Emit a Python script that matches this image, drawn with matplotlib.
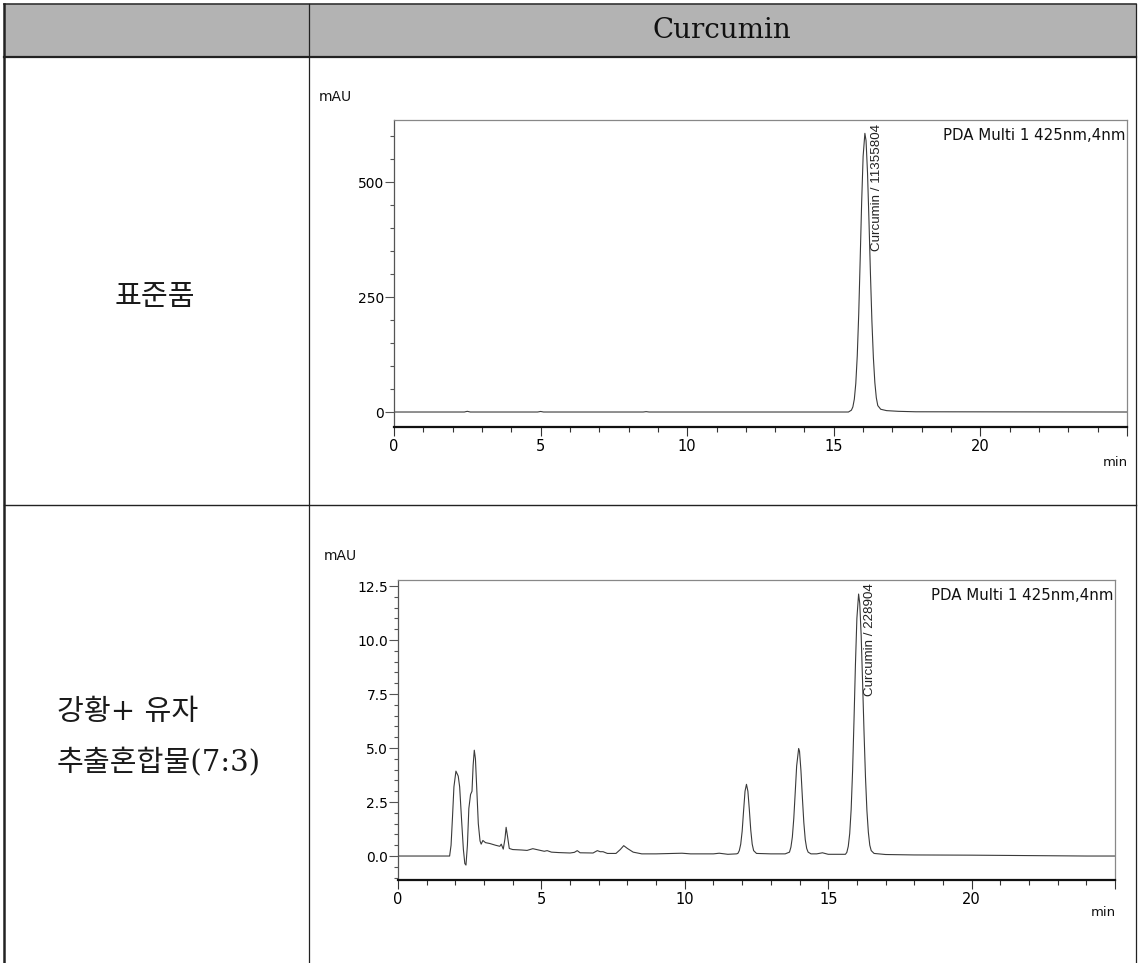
import matplotlib
matplotlib.use("Agg")
import matplotlib.pyplot as plt
from matplotlib.ticker import MultipleLocator, FixedLocator
from matplotlib.patches import Rectangle

# ---------------- DATA ----------------
header_title = "Curcumin"
row_labels = ["표준품", "강황+ 유자\n추출혼합물(7:3)"]
peak_labels = ["Curcumin / 11355804", "Curcumin / 228904"]
detector = "PDA Multi 1 425nm,4nm"

# standard (mAU vs min)
std_time = [0, 2.4, 2.5, 2.6, 4.9, 5.0, 5.1, 8.5, 8.6, 8.7, 15.5, 15.6, 15.65,
            15.7, 15.75, 15.8, 15.85, 15.9, 15.95, 16.0, 16.06, 16.1, 16.15,
            16.2, 16.25, 16.3, 16.35, 16.4, 16.45, 16.5, 16.6, 16.8, 17.2,
            17.8, 25]
std_mau = [0, 0, 1.5, 0, 0, 1.2, 0, 0, 0.8, 0, 0, 4, 11,
           28, 62, 122, 213, 332, 456, 556, 606, 590, 520,
           415, 300, 197, 118, 64, 31, 14, 6, 3, 1.5,
           0.5, 0]

# extract mixture (mAU vs min)
mix_time = [0, 1.8, 1.85, 1.9, 1.95, 2.02, 2.1, 2.15, 2.22, 2.28, 2.33, 2.37,
            2.42, 2.47, 2.53, 2.58, 2.62, 2.66, 2.7, 2.75, 2.8, 2.86, 2.9,
            2.96, 3.05, 3.2, 3.4, 3.55, 3.6, 3.67, 3.73, 3.77, 3.82, 3.88,
            4.0, 4.3, 4.5, 4.7, 4.9, 5.1, 5.2, 5.35, 5.6, 6.0, 6.15, 6.25,
            6.35, 6.8, 6.95, 7.05, 7.15, 7.3, 7.6, 7.75, 7.87, 8.0, 8.2, 8.5,
            9.0, 9.9, 10.2, 11.0, 11.2, 11.5, 11.8, 11.85, 11.9, 11.95, 12.0,
            12.05, 12.1, 12.15, 12.2, 12.25, 12.3, 12.35, 12.4, 12.5, 13.0,
            13.5, 13.65, 13.7, 13.75, 13.8, 13.85, 13.9, 13.97, 14.0, 14.05,
            14.1, 14.15, 14.2, 14.25, 14.3, 14.4, 14.6, 14.8, 15.0, 15.6,
            15.65, 15.7, 15.75, 15.8, 15.85, 15.9, 15.95, 16.0, 16.06, 16.1,
            16.15, 16.2, 16.25, 16.3, 16.35, 16.4, 16.45, 16.5, 16.6, 17.0,
            18.0, 20.0, 22.0, 24.0, 25.0]
mix_mau = [0, 0, 0.5, 1.8, 3.2, 3.93, 3.7, 3.2, 1.6, 0.3, -0.35, -0.42,
           0.5, 2.2, 2.85, 3.0, 4.2, 4.9, 4.5, 3.0, 1.5, 0.7, 0.55,
           0.72, 0.62, 0.58, 0.5, 0.45, 0.55, 0.32, 0.8, 1.33, 0.9, 0.35,
           0.3, 0.28, 0.26, 0.34, 0.28, 0.22, 0.25, 0.18, 0.16, 0.14, 0.17, 0.25,
           0.15, 0.14, 0.25, 0.2, 0.2, 0.12, 0.12, 0.3, 0.48, 0.35, 0.18, 0.1,
           0.1, 0.13, 0.1, 0.1, 0.13, 0.08, 0.1, 0.12, 0.25, 0.55, 1.15,
           2.1, 3.0, 3.32, 3.0, 2.15, 1.2, 0.55, 0.25, 0.12, 0.1,
           0.1, 0.18, 0.41, 0.88, 1.74, 2.94, 4.17, 4.98, 4.85, 3.95,
           2.7, 1.55, 0.76, 0.35, 0.18, 0.1, 0.1, 0.15, 0.08, 0.08,
           0.17, 0.45, 1.04, 2.15, 3.93, 6.3, 8.88, 11.0, 12.13, 11.7,
           10.2, 8.0, 5.7, 3.65, 2.1, 1.1, 0.5, 0.25, 0.12, 0.07,
           0.05, 0.04, 0.02, 0.0, 0.0]

x_major = [0, 5, 10, 15, 20, 25]
x_labels = ["0", "5", "10", "15", "20", ""]

W, H = 1139, 963
fig = plt.figure(figsize=(W / 100, H / 100), dpi=100)

# ---------------- TABLE ----------------
bg = fig.add_axes([0, 0, 1, 1])
bg.set_xlim(0, W)
bg.set_ylim(H, 0)
bg.axis("off")
bg.add_patch(Rectangle((4, 4), 1132, 53, facecolor="#b3b3b3", edgecolor="none"))
bg.plot([4, 1136], [4, 4], color="#333333", lw=1.2)
bg.plot([4, 1136], [57, 57], color="#222222", lw=1.6)
bg.plot([4, 1136], [505, 505], color="#222222", lw=1.0)
bg.plot([4, 4], [4, H], color="#222222", lw=1.8)
bg.plot([309, 309], [4, H], color="#222222", lw=0.9)
bg.plot([1136, 1136], [4, H], color="#222222", lw=0.9)

kor = ["DejaVu Serif", "Noto Sans CJK KR"]
bg.text(722, 31, header_title, ha="center", va="center", fontsize=20,
        family=["DejaVu Serif"], color="#111111")
bg.text(155, 297, row_labels[0], ha="center", va="center", fontsize=21,
        family=kor, color="#1a1a1a")
lab2 = row_labels[1].split("\n")
bg.text(57, 712, lab2[0], ha="left", va="center", fontsize=21,
        family=kor, color="#1a1a1a")
bg.text(57, 763, lab2[1], ha="left", va="center", fontsize=21,
        family=kor, color="#1a1a1a")


# ---------------- CHROMATOGRAMS ----------------
def chromatogram(rect, t, y, ylim, ymajor, yminor, yfmt, label, label_y,
                 mau_xy, min_xy):
    ax = fig.add_axes(rect)
    ax.plot(t, y, color="#3a3a3a", lw=0.8)
    ax.set_xlim(0, 25)
    ax.set_ylim(*ylim)
    ax.xaxis.set_major_locator(FixedLocator(x_major))
    ax.set_xticklabels(x_labels)
    ax.xaxis.set_minor_locator(MultipleLocator(1))
    ax.yaxis.set_major_locator(FixedLocator(ymajor))
    ax.set_yticklabels([yfmt % v for v in ymajor])
    ax.yaxis.set_minor_locator(MultipleLocator(yminor))
    ax.tick_params(axis="x", which="major", length=6.5, width=0.8,
                   color="#333333", labelsize=10.5, pad=2)
    ax.tick_params(axis="x", which="minor", length=3.5, width=0.8,
                   color="#333333")
    ax.tick_params(axis="y", which="major", length=6.5, width=0.8,
                   color="#555555", labelsize=10, pad=0.5)
    ax.tick_params(axis="y", which="minor", length=3, width=0.8,
                   color="#555555")
    ax.spines["bottom"].set_linewidth(1.6)
    ax.spines["bottom"].set_color("#111111")
    ax.spines["left"].set_color("#555555")
    ax.spines["left"].set_linewidth(0.9)
    for s in ["top", "right"]:
        ax.spines[s].set_color("#888888")
        ax.spines[s].set_linewidth(0.9)
    ax.text(16.47, label_y, label, rotation=90, ha="center", va="top",
            fontsize=9.6, family=["Liberation Sans"], color="#222222")
    ax.text(0.998, 0.975, detector, transform=ax.transAxes, ha="right",
            va="top", fontsize=10.8, color="#111111")
    bg.text(mau_xy[0], mau_xy[1], "mAU", ha="left", va="center", fontsize=10,
            color="#111111")
    bg.text(min_xy[0], min_xy[1], "min", ha="right", va="center", fontsize=9.5,
            color="#111111")
    return ax


chromatogram([394 / W, 1 - 427 / H, 733 / W, 307 / H], std_time, std_mau,
             (-32.6, 635), [0, 250, 500], 50, "%d", peak_labels[0], 626,
             (319, 97), (1128, 462))
chromatogram([398 / W, 1 - 880 / H, 717 / W, 300 / H], mix_time, mix_mau,
             (-1.11, 12.78), [0, 2.5, 5, 7.5, 10, 12.5], 0.5, "%.1f",
             peak_labels[1], 12.64, (324, 556), (1116, 913))

plt.savefig("out.png", dpi=100)
